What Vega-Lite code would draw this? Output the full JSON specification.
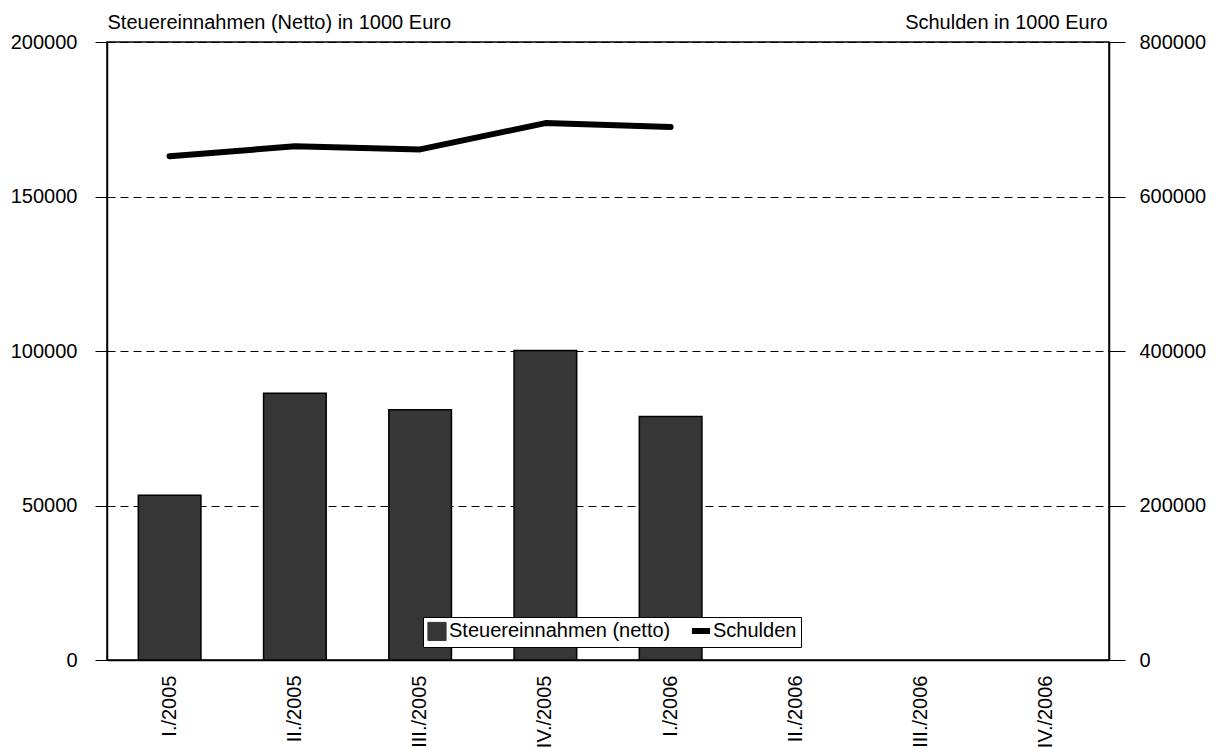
{
  "$schema": "https://vega.github.io/schema/vega-lite/v6.json",
  "width": 1002,
  "height": 618,
  "autosize": "none",
  "padding": {"left": 107, "top": 42, "right": 110, "bottom": 89},
  "background": "white",
  "config": {
    "font": "Liberation Sans",
    "view": {"stroke": "black", "strokeWidth": 1.5},
    "axis": {
      "labelFont": "Liberation Sans",
      "labelFontSize": 20,
      "labelColor": "black",
      "titleFont": "Liberation Sans",
      "titleFontSize": 20,
      "titleFontWeight": "normal",
      "titleColor": "black",
      "domainColor": "black",
      "tickColor": "black",
      "domainWidth": 1.5,
      "tickWidth": 1
    },
    "legend": {"labelFont": "Liberation Sans", "labelFontSize": 20, "labelColor": "black", "labelLimit": 400}
  },
  "data": {
    "values": [
      {"q": "I./2005", "steuer": 53300, "schulden": 652000},
      {"q": "II./2005", "steuer": 86300, "schulden": 665000},
      {"q": "III./2005", "steuer": 81000, "schulden": 661000},
      {"q": "IV./2005", "steuer": 100200, "schulden": 695000},
      {"q": "I./2006", "steuer": 78800, "schulden": 690000},
      {"q": "II./2006", "steuer": null, "schulden": null},
      {"q": "III./2006", "steuer": null, "schulden": null},
      {"q": "IV./2006", "steuer": null, "schulden": null}
    ]
  },
  "encoding": {
    "x": {
      "field": "q",
      "type": "nominal",
      "sort": null,
      "scale": {
        "domain": ["I./2005", "II./2005", "III./2005", "IV./2005", "I./2006", "II./2006", "III./2006", "IV./2006"],
        "paddingInner": 0.5,
        "paddingOuter": 0.25
      },
      "axis": {"title": null, "labelAngle": -90, "ticks": false, "labelPadding": 15}
    }
  },
  "layer": [
    {
      "mark": {"type": "bar", "stroke": "black", "strokeWidth": 1.5},
      "encoding": {
        "y": {
          "field": "steuer",
          "type": "quantitative",
          "scale": {"domain": [0, 200000], "nice": false},
          "axis": {
            "values": [0, 50000, 100000, 150000, 200000],
            "format": "d",
            "grid": true,
            "gridColor": "black",
            "gridDash": [8, 5],
            "gridWidth": 1,
            "tickSize": 12,
            "labelPadding": 18,
            "title": "Steuereinnahmen (Netto) in 1000 Euro",
            "titleAngle": 0,
            "titleX": 0,
            "titleY": -14,
            "titleAlign": "left",
            "titleBaseline": "alphabetic"
          }
        },
        "color": {
          "datum": "Steuereinnahmen (netto)",
          "type": "nominal",
          "scale": {"domain": ["Steuereinnahmen (netto)", "Schulden"], "range": ["#363636", "black"]},
          "legend": {
            "title": null,
            "orient": "none",
            "legendX": 316,
            "legendY": 575,
            "direction": "horizontal",
            "fillColor": "white",
            "strokeColor": "black",
            "padding": 4,
            "columnPadding": 8,
            "symbolSize": 330,
            "labelOffset": 2,
            "symbolType": {"expr": "datum.value === 'Schulden' ? 'stroke' : 'square'"},
            "symbolStrokeWidth": {"expr": "datum.value === 'Schulden' ? 6 : 1"},
            "symbolStrokeColor": "black",
            "symbolOpacity": 1
          }
        }
      }
    },
    {
      "mark": {"type": "line", "strokeWidth": 6, "strokeCap": "round", "strokeJoin": "round"},
      "encoding": {
        "y": {
          "field": "schulden",
          "type": "quantitative",
          "scale": {"domain": [0, 800000], "nice": false},
          "axis": {
            "orient": "right",
            "values": [0, 200000, 400000, 600000, 800000],
            "format": "d",
            "grid": false,
            "tickSize": 16,
            "labelPadding": 14,
            "title": "Schulden in 1000 Euro",
            "titleAngle": 0,
            "titleX": -2,
            "titleY": -14,
            "titleAlign": "right",
            "titleBaseline": "alphabetic"
          }
        },
        "color": {"datum": "Schulden", "type": "nominal"}
      }
    }
  ],
  "resolve": {"scale": {"y": "independent"}}
}
